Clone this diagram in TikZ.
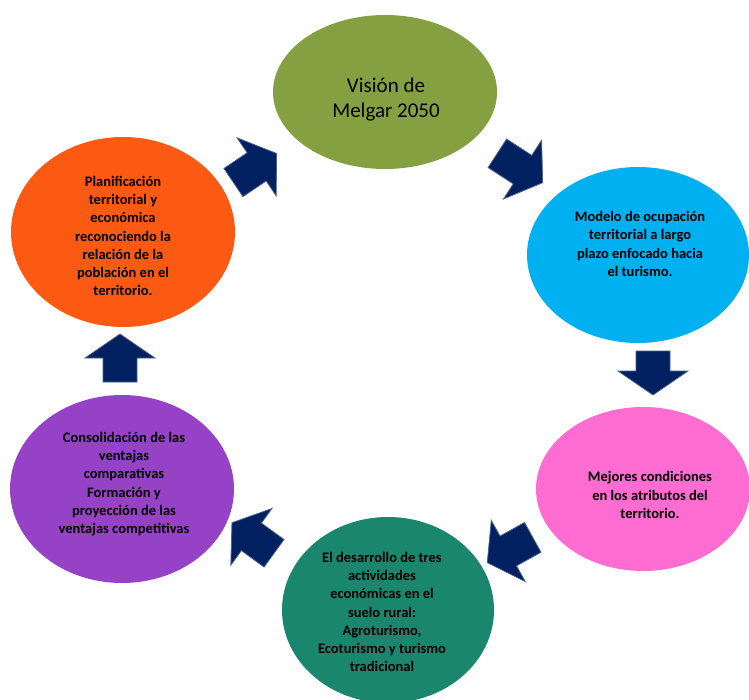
\documentclass[tikz,border=0pt]{standalone}
\usepackage{fontspec}
\setmainfont{Carlito}
\usetikzlibrary{shapes.geometric}
\definecolor{cgreen}{RGB}{132,160,64}
\definecolor{cblue}{RGB}{0,176,240}
\definecolor{cpink}{RGB}{255,108,210}
\definecolor{corange}{RGB}{252,90,18}
\definecolor{cpurple}{RGB}{150,66,198}
\definecolor{cteal}{RGB}{26,134,110}
\definecolor{navy}{RGB}{0,32,96}
\tikzset{
  blob/.style={ellipse, inner sep=0pt, draw=none},
  txt/.style={align=center, font=\bfseries\fontsize{14.5}{18.3}\selectfont, text=black, inner sep=0pt},
  barrow/.style={fill=navy, draw=navy!70!white, line width=0.8pt, line join=miter}
}
\newcommand\blockarrow[4]{%
  \begin{scope}[shift={(#1,#2)}, rotate=#3]
    \path[barrow] (-#4,-17) -- (#4-24,-17) -- (#4-24,-35) -- (#4,0) -- (#4-24,35) -- (#4-24,17) -- (-#4,17) -- cycle;
  \end{scope}}
\begin{document}
\begin{tikzpicture}[x=1pt,y=-1pt]
\useasboundingbox[fill=white] (0,0) rectangle (749,700);
\node[blob, fill=cgreen, minimum width=224pt, minimum height=154pt] (vision) at (385,92) {};
\node[blob, fill=cblue, minimum width=222pt, minimum height=176pt] (modelo) at (638,255) {};
\node[blob, fill=cpink, minimum width=214pt, minimum height=164pt] (mejores) at (643,489) {};
\node[blob, fill=cteal, minimum width=212pt, minimum height=186pt] (desarrollo) at (388,610) {};
\node[blob, fill=cpurple, minimum width=224pt, minimum height=188pt] (consol) at (122,489) {};
\node[blob, fill=corange, minimum width=224pt, minimum height=190pt] (planif) at (123,232) {};

\node[txt, font=\fontsize{21}{25}\selectfont] (tvision) at (386,100) {Visión de\\Melgar 2050};
\node[txt] (tmodelo) at (640,244) {Modelo de ocupación\\territorial a largo\\plazo enfocado hacia\\el turismo.};
\node[txt] (tmejores) at (650,495) {Mejores condiciones\\en los atributos del\\territorio.};
\node[txt] (tdesarrollo) at (382,612) {El desarrollo de tres\\actividades\\económicas en el\\suelo rural:\\Agroturismo,\\Ecoturismo y turismo\\tradicional};
\node[txt] (tconsol) at (124,484) {Consolidación de las\\ventajas\\comparativas\\Formación y\\proyección de las\\ventajas competitivas};
\node[txt] (tplanif) at (123,236) {Planificación\\territorial y\\económica\\reconociendo la\\relación de la\\población en el\\territorio.};

\blockarrow{255}{168}{34}{26}
\blockarrow{520}{168}{-33}{27}
\blockarrow{653}{373}{-90}{22}
\blockarrow{510}{550}{-151}{26}
\blockarrow{253}{538}{144}{26}
\blockarrow{120}{358}{90}{24}
\end{tikzpicture}
\end{document}
